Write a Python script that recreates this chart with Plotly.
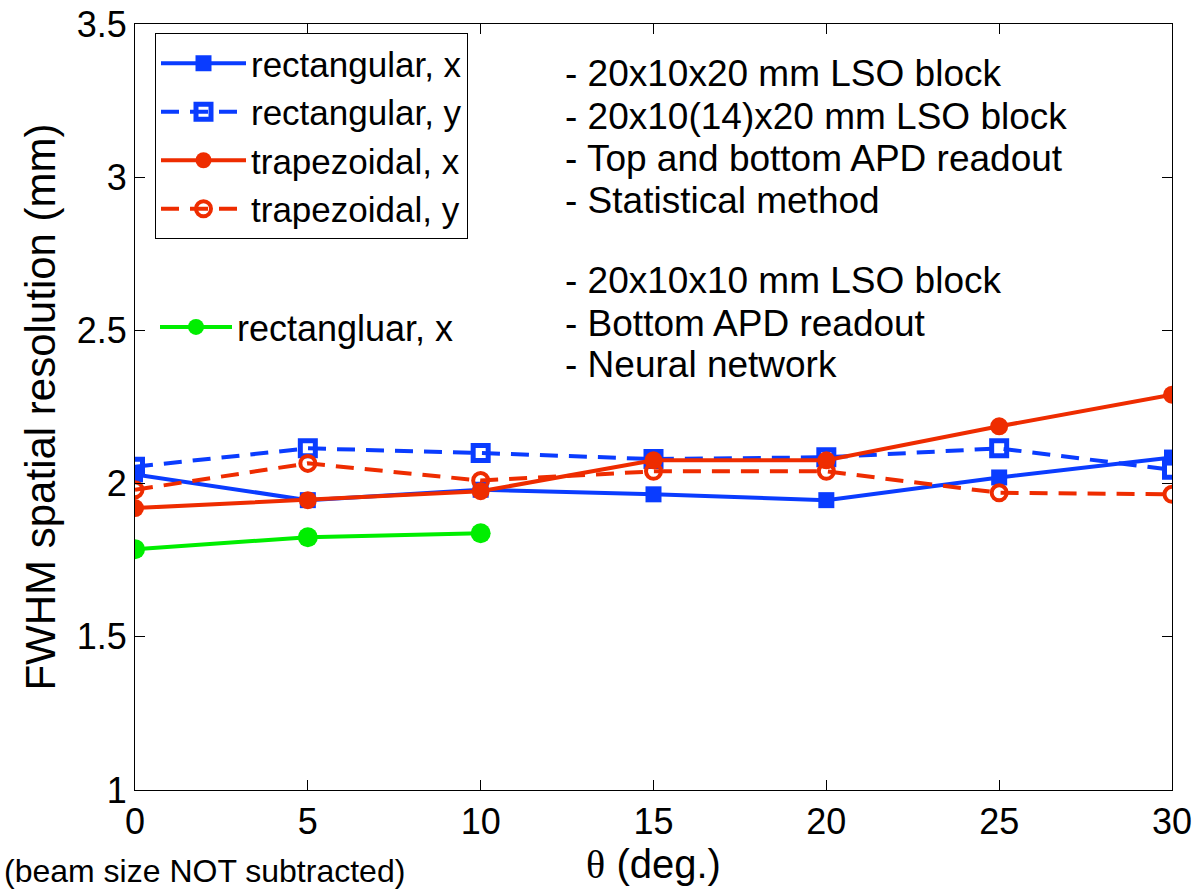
import plotly.graph_objects as go

theta = [0, 5, 10, 15, 20, 25, 30]
rect_x = [2.03, 1.946, 1.98, 1.965, 1.946, 2.02, 2.085]
rect_y = [2.055, 2.115, 2.10, 2.08, 2.086, 2.115, 2.045]
trap_x = [1.92, 1.946, 1.975, 2.076, 2.076, 2.187, 2.29]
trap_y = [1.98, 2.066, 2.01, 2.04, 2.04, 1.97, 1.965]
nn_theta = [0, 5, 10]
nn_x = [1.786, 1.825, 1.838]

BLUE = "#0A3CFF"
RED = "#EE2C00"
GREEN = "#00EE00"
FONT = "Liberation Sans, Arial, sans-serif"
DASH = "18px,11px"

W, H = 1192, 889
PX0, PX1, PY0, PY1 = 135, 1172, 24, 790   # plot area in page pixels


def px(x):
    return (x - PX0) / (PX1 - PX0)


def py(y):
    return (PY1 - y) / (PY1 - PY0)


fig = go.Figure()
fig.add_trace(go.Scatter(x=theta, y=rect_x, name="rectangular, x", mode="lines+markers",
                         line=dict(color=BLUE, width=4),
                         marker=dict(symbol="square", size=16, color=BLUE)))
fig.add_trace(go.Scatter(x=theta, y=rect_y, name="rectangular, y", mode="lines+markers",
                         line=dict(color=BLUE, width=4, dash=DASH),
                         marker=dict(symbol="square-open", size=15, color=BLUE, line=dict(width=5))))
fig.add_trace(go.Scatter(x=theta, y=trap_x, name="trapezoidal, x", mode="lines+markers",
                         line=dict(color=RED, width=4),
                         marker=dict(symbol="circle", size=18, color=RED)))
fig.add_trace(go.Scatter(x=theta, y=trap_y, name="trapezoidal, y", mode="lines+markers",
                         line=dict(color=RED, width=4, dash=DASH),
                         marker=dict(symbol="circle-open", size=15, color=RED, line=dict(width=4))))
fig.add_trace(go.Scatter(x=nn_theta, y=nn_x, name="rectangluar, x", mode="lines+markers",
                         line=dict(color=GREEN, width=4),
                         marker=dict(symbol="circle", size=20, color=GREEN),
                         legend="legend2"))

notes = [
    ("- 20x10x20 mm LSO block", 73),
    ("- 20x10(14)x20 mm LSO block", 116),
    ("- Top and bottom APD readout", 158),
    ("- Statistical method", 200),
    ("- 20x10x10 mm LSO block", 281),
    ("- Bottom APD readout", 323),
    ("- Neural network", 365),
]
for txt, yy in notes:
    fig.add_annotation(text=txt, xref="paper", yref="paper",
                       x=px(563), y=py(yy),
                       xanchor="left", yanchor="middle", showarrow=False,
                       font=dict(size=37, color="black", family=FONT))

fig.add_annotation(text="(beam size NOT subtracted)", xref="paper", yref="paper",
                   x=px(2), y=py(871),
                   xanchor="left", yanchor="middle", showarrow=False,
                   font=dict(size=32, color="black", family=FONT))

axis_common = dict(showline=True, linecolor="black", linewidth=1, mirror="allticks",
                   ticks="inside", ticklen=10, tickcolor="black", showgrid=False,
                   zeroline=False, ticklabeloverflow="allow", automargin=False,
                   tickfont=dict(size=36, color="black", family=FONT))

fig.update_layout(
    width=W, height=H,
    margin=dict(l=PX0, r=W - PX1, t=PY0, b=H - PY1, autoexpand=False),
    paper_bgcolor="white", plot_bgcolor="white",
    font=dict(family=FONT, color="black"),
    xaxis=dict(range=[0, 30], tickvals=[0, 5, 10, 15, 20, 25, 30],
               title=dict(text='<span style="font-family:Liberation Serif, Times New Roman, serif">θ</span> (deg.)',
                          font=dict(size=40, family=FONT), standoff=0),
               **axis_common),
    yaxis=dict(range=[1, 3.5], tickvals=[1, 1.5, 2, 2.5, 3, 3.5],
               ticktext=["1", "1.5", "2", "2.5", "3", "3.5"],
               title=dict(text="FWHM spatial resolution (mm)", font=dict(size=42, family=FONT), standoff=8),
               **axis_common),
    legend=dict(x=px(155), y=py(33),
                xanchor="left", yanchor="top", bgcolor="white",
                bordercolor="black", borderwidth=1,
                font=dict(size=35, family=FONT, color="black"),
                itemwidth=85, tracegroupgap=0),
    legend2=dict(x=px(155), y=py(327),
                 xanchor="left", yanchor="middle", bgcolor="rgba(0,0,0,0)",
                 borderwidth=0,
                 font=dict(size=36, family=FONT, color="black"),
                 itemwidth=72),
    showlegend=True,
)

fig.write_html("out.html", config={"displayModeBar": False},
               post_script="document.body.style.margin='0';document.body.style.overflow='hidden';")
